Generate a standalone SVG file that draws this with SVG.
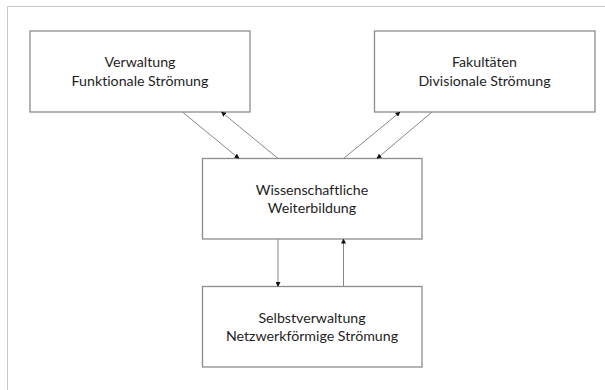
<svg xmlns="http://www.w3.org/2000/svg" width="605" height="390" viewBox="0 0 605 390">
<style>
.box{fill:#fff;stroke:#8c8c8c;stroke-width:1.3}
.t{font-family:Lato,"Open Sans",sans-serif;font-size:14.2px;fill:#1e1e1e;text-anchor:middle;font-variant-ligatures:none}
.c{stroke:#888;stroke-width:1;fill:none;marker-end:url(#ah)}
</style>
<defs>
<marker id="ah" viewBox="0 0 10 10" refX="9" refY="5" markerWidth="5" markerHeight="5" markerUnits="userSpaceOnUse" orient="auto">
<path d="M0,0 L10,5 L0,10 Z" fill="#111"/>
</marker>
</defs>
<rect width="605" height="390" fill="#fff"/>
<path d="M7.5,390 V6.5 H605" fill="none" stroke="#c8c8c8" stroke-width="1"/>
<g id="verwaltung">
<rect class="box" x="30" y="31" width="220" height="81"/>
<text class="t" x="140" y="67">Verwaltung</text>
<text class="t" x="140" y="86">Funktionale Strömung</text>
</g>
<g id="fakultaeten">
<rect class="box" x="374.5" y="31" width="220.5" height="81"/>
<text class="t" x="484.5" y="67">Fakultäten</text>
<text class="t" x="484.5" y="86">Divisionale Strömung</text>
</g>
<g id="weiterbildung">
<rect class="box" x="202.5" y="158.5" width="219.5" height="80.5"/>
<text class="t" x="312" y="195">Wissenschaftliche</text>
<text class="t" x="312" y="213">Weiterbildung</text>
</g>
<g id="selbstverwaltung">
<rect class="box" x="202.5" y="286.5" width="219.5" height="80.5"/>
<text class="t" x="312" y="322.5">Selbstverwaltung</text>
<text class="t" x="312" y="341">Netzwerkförmige Strömung</text>
</g>
<g id="connectors">
<line class="c" x1="182.5" y1="112" x2="239" y2="158.5"/>
<line class="c" x1="278" y1="158.5" x2="221.5" y2="112"/>
<line class="c" x1="343.5" y1="158.5" x2="400" y2="112"/>
<line class="c" x1="432" y1="112" x2="377" y2="158.5"/>
<line class="c" x1="278" y1="239" x2="278" y2="286.5"/>
<line class="c" x1="343.5" y1="286.5" x2="343.5" y2="239"/>
</g>
</svg>
